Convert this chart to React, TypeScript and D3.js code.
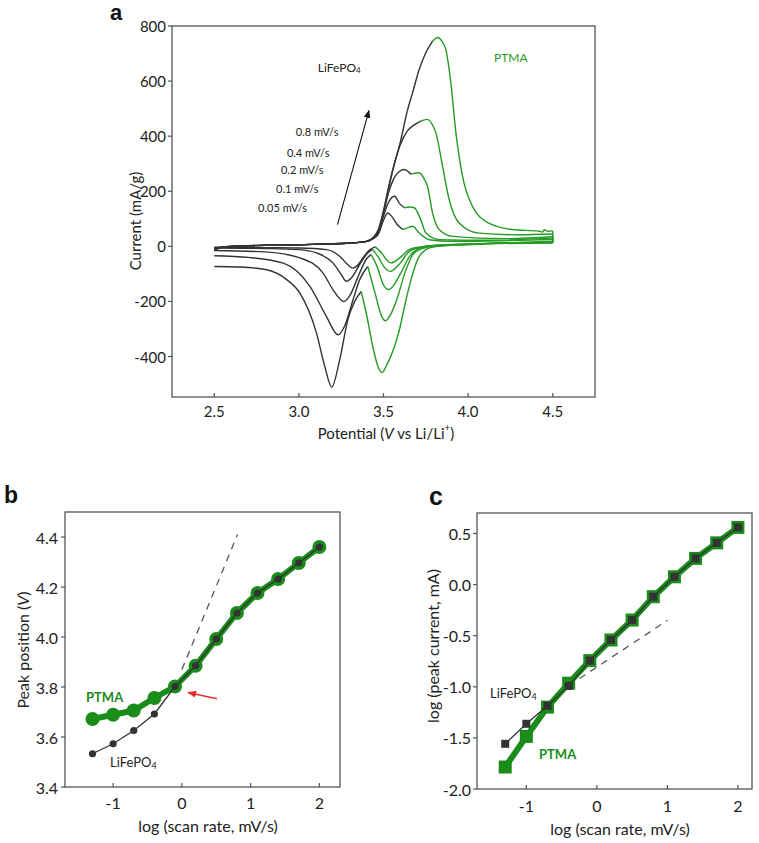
import React from "react";
import * as d3 from "d3";

// ---------- Panel a data: CV curves [potential V, current mA/g] ----------
const rateLabels = ["0.05 mV/s", "0.1 mV/s", "0.2 mV/s", "0.4 mV/s", "0.8 mV/s"];

const anodic005: [number, number][] = [[2.5,-8],[2.55,-2],[2.7,2],[3.0,6],[3.3,12],[3.4,18],[3.44,28],[3.47,45],[3.5,95],[3.525,121],[3.55,108],[3.58,80],[3.614,61],[3.645,68],[3.672,73],[3.71,49],[3.77,24],[3.9,18],[4.2,20],[4.5,25]];
const anodic01: [number, number][] = [[2.5,-8],[2.55,-2],[2.7,2],[3.0,6],[3.3,12],[3.4,18],[3.44,30],[3.47,50],[3.5,110],[3.53,160],[3.565,182],[3.595,155],[3.624,140],[3.655,143],[3.682,140],[3.72,97],[3.75,49],[3.83,24],[4.1,22],[4.5,30]];
const anodic02: [number, number][] = [[2.5,-10],[2.55,-3],[2.7,2],[3.0,6],[3.3,12],[3.4,18],[3.44,31],[3.47,55],[3.5,120],[3.53,195],[3.56,245],[3.59,270],[3.62,279],[3.663,262],[3.71,267],[3.74,245],[3.76,218],[3.79,121],[3.829,61],[3.908,36],[4.2,28],[4.5,35]];
const anodic04: [number, number][] = [[2.5,-12],[2.55,-3],[2.7,2],[3.0,6],[3.3,12],[3.4,18],[3.44,32],[3.47,58],[3.5,125],[3.53,210],[3.56,290],[3.6,370],[3.64,418],[3.68,440],[3.72,455],[3.76,461],[3.79,440],[3.81,412],[3.849,291],[3.888,170],[3.947,85],[4.065,48],[4.3,42],[4.5,45]];
const anodic08: [number, number][] = [[2.5,-15],[2.55,-3],[2.7,2],[3.0,6],[3.3,12],[3.4,18],[3.44,32],[3.47,62],[3.5,130],[3.53,215],[3.56,290],[3.6,380],[3.64,490],[3.672,558],[3.71,640],[3.75,703],[3.79,745],[3.82,758],[3.845,745],[3.868,715],[3.898,594],[3.928,412],[3.967,255],[4.026,145],[4.12,85],[4.26,61],[4.42,55],[4.44,52],[4.45,60],[4.47,55],[4.5,56]];

const cathodic005: [number, number][] = [[2.5,-3],[2.8,-5],[3.0,-6],[3.163,-12],[3.241,-36],[3.29,-67],[3.316,-79],[3.345,-70],[3.38,-40],[3.42,-12],[3.452,-2],[3.49,-25],[3.52,-50],[3.545,-60],[3.6,-40],[3.65,-12],[3.72,-2],[3.8,3],[4.0,8],[4.5,12]];
const cathodic01: [number, number][] = [[2.5,-6],[2.8,-8],[3.0,-12],[3.104,-24],[3.202,-61],[3.251,-103],[3.28,-127],[3.31,-115],[3.36,-65],[3.41,-22],[3.437,-12],[3.47,-40],[3.51,-80],[3.54,-91],[3.6,-60],[3.65,-20],[3.72,-3],[3.8,3],[4.0,8],[4.5,14]];
const cathodic02: [number, number][] = [[2.5,-15],[2.8,-20],[3.006,-42],[3.143,-97],[3.202,-158],[3.265,-200],[3.3,-180],[3.35,-110],[3.4,-45],[3.427,-30],[3.46,-70],[3.5,-140],[3.531,-157],[3.6,-100],[3.65,-40],[3.7,-10],[3.76,0],[4.0,8],[4.5,15]];
const cathodic04: [number, number][] = [[2.5,-34],[2.7,-40],[2.908,-61],[3.065,-145],[3.163,-255],[3.231,-321],[3.27,-290],[3.32,-194],[3.36,-120],[3.407,-73],[3.45,-170],[3.49,-255],[3.512,-270],[3.54,-250],[3.58,-190],[3.63,-90],[3.68,-25],[3.75,-4],[3.85,3],[4.0,8],[4.5,16]];
const cathodic08: [number, number][] = [[2.5,-73],[2.653,-75],[2.81,-85],[2.928,-121],[3.006,-170],[3.104,-315],[3.153,-436],[3.194,-511],[3.241,-412],[3.29,-265],[3.33,-200],[3.368,-164],[3.398,-242],[3.437,-364],[3.467,-436],[3.492,-458],[3.52,-430],[3.594,-303],[3.633,-194],[3.663,-121],[3.7,-50],[3.75,-12],[3.8,-2],[4.0,6],[4.5,18]];

const anodicCurves = [anodic005, anodic01, anodic02, anodic04, anodic08];
const cathodicCurves = [cathodic005, cathodic01, cathodic02, cathodic04, cathodic08];
// potential where colour changes from LiFePO4 (black) to PTMA (green)
const anodicSplit = [3.614, 3.624, 3.663, 3.72, 3.79];
const cathodicSplit = [3.452, 3.437, 3.427, 3.407, 3.368];

const aXTicks = [2.5, 3.0, 3.5, 4.0, 4.5];
const aYTicks = [-400, -200, 0, 200, 400, 600, 800];

// ---------- Panels b & c data ----------
const logRate = [-1.3, -1.0, -0.7, -0.4, -0.1, 0.2, 0.5, 0.8, 1.1, 1.4, 1.7, 2.0];
const peakPosPTMA = [3.672, 3.689, 3.706, 3.756, 3.802, 3.885, 3.992, 4.096, 4.176, 4.232, 4.296, 4.36];
const peakPosLFP = [3.533, 3.573, 3.626, 3.692, 3.802, 3.885, 3.992, 4.096, 4.176, 4.232, 4.296, 4.36];
const peakCurPTMA = [-1.785, -1.486, -1.199, -0.965, -0.744, -0.542, -0.347, -0.119, 0.076, 0.256, 0.408, 0.559];
const peakCurLFP = [-1.558, -1.362, -1.186, -0.991, -0.744, -0.542, -0.347, -0.119, 0.076, 0.256, 0.408, 0.559];

const bXTicks = [-1, 0, 1, 2];
const bYTicks = [3.4, 3.6, 3.8, 4.0, 4.2, 4.4];
const cXTicks = [-1, 0, 1, 2];
const cYTicks = [-2.0, -1.5, -1.0, -0.5, 0.0, 0.5];

const bDashed: [number, number][] = [[0.0, 3.87], [0.81, 4.41]];
const cDashed: [number, number][] = [[-0.4, -0.99], [1.0, -0.35]];
const bRedArrow: [number, number][] = [[0.51, 3.753], [0.09, 3.778]];
const aArrow: [number, number][] = [[3.228, 79], [3.414, 493]];

const FONT = "Lato, 'Open Sans', sans-serif";
const GREEN_A = "#249b24";
const GREEN = "#1a8c1a";
const DARK = "#333333";
const AXIS = "#555555";

export default function App() {
  // scales
  const xA = d3.scaleLinear().domain([2.25, 4.75]).range([172, 595]);
  const yA = d3.scaleLinear().domain([-547, 800]).range([397, 26]);
  const xB = d3.scaleLinear().domain([-1.7, 2.3]).range([65, 340]);
  const yB = d3.scaleLinear().domain([3.4, 4.5]).range([787, 512]);
  const xC = d3.scaleLinear().domain([-1.7, 2.2]).range([477, 752]);
  const yC = d3.scaleLinear().domain([-2.0, 0.7]).range([789, 513]);

  const lineA = d3
    .line<[number, number]>()
    .x((d) => xA(d[0]))
    .y((d) => yA(d[1]))
    .curve(d3.curveMonotoneX);

  const segs: { d: string; color: string }[] = [];
  anodicCurves.forEach((c, i) => {
    const s = anodicSplit[i];
    segs.push({ d: lineA(c.filter((p) => p[0] <= s))!, color: DARK });
    segs.push({ d: lineA(c.filter((p) => p[0] >= s))!, color: GREEN_A });
  });
  cathodicCurves.forEach((c, i) => {
    const s = cathodicSplit[i];
    segs.push({ d: lineA(c.filter((p) => p[0] <= s))!, color: DARK });
    segs.push({ d: lineA(c.filter((p) => p[0] >= s))!, color: GREEN_A });
    const a = anodicCurves[i];
    const aEnd = a[a.length - 1];
    const cEnd = c[c.length - 1];
    segs.push({
      d: `M${xA(aEnd[0])},${yA(aEnd[1])}L${xA(cEnd[0])},${yA(cEnd[1])}`,
      color: GREEN_A,
    });
  });

  const lineB = (ys: number[]) =>
    d3.line<number>().x((_, i) => xB(logRate[i])).y((d) => yB(d))(ys)!;
  const lineC = (ys: number[]) =>
    d3.line<number>().x((_, i) => xC(logRate[i])).y((d) => yC(d))(ys)!;

  const fmt1 = (v: number) => v.toFixed(1);

  const rateLabelPos: [number, number][] = [
    [2.759, 141],
    [2.865, 211],
    [2.894, 279],
    [2.929, 342],
    [2.982, 417],
  ];

  return (
    <svg
      width={759}
      height={843}
      style={{ position: "absolute", left: 0, top: 0, background: "#fff" }}
      fontFamily={FONT}
    >
      <defs>
        <marker id="arrBlack" viewBox="0 0 10 10" refX="9" refY="5" markerWidth="8" markerHeight="8" orient="auto" markerUnits="userSpaceOnUse">
          <path d="M0,1 L10,5 L0,9 z" fill="#111" />
        </marker>
        <marker id="arrRed" viewBox="0 0 10 10" refX="9" refY="5" markerWidth="9" markerHeight="9" orient="auto" markerUnits="userSpaceOnUse">
          <path d="M0,1 L10,5 L0,9 z" fill="#e8302a" />
        </marker>
      </defs>

      {/* ================= Panel a ================= */}
      <text x={110} y={12} fontSize={22} fontWeight="bold" dominantBaseline="central" fontFamily="Arial, 'Liberation Sans', sans-serif" fill="#111">a</text>
      <rect x={172} y={26} width={423} height={371} fill="none" stroke={AXIS} strokeWidth={1.3} />
      {aXTicks.map((t) => (
        <g key={"ax" + t}>
          <line x1={xA(t)} x2={xA(t)} y1={397} y2={393} stroke={AXIS} strokeWidth={1.2} />
          <text x={xA(t)} y={411} textAnchor="middle" dominantBaseline="central" fontSize={15} fill="#222">{fmt1(t)}</text>
        </g>
      ))}
      {aYTicks.map((t) => (
        <g key={"ay" + t}>
          <line x1={172} x2={168} y1={yA(t)} y2={yA(t)} stroke={AXIS} strokeWidth={1.2} />
          <text x={166} y={yA(t)} textAnchor="end" dominantBaseline="central" fontSize={15} fill="#222">{t}</text>
        </g>
      ))}
      <text transform={`translate(135,221) rotate(-90)`} textAnchor="middle" dominantBaseline="central" fontSize={15} fill="#222">Current (mA/g)</text>
      <text x={386} y={433} textAnchor="middle" dominantBaseline="central" fontSize={15} fill="#222">
        Potential (<tspan fontStyle="italic">V</tspan> vs Li/Li<tspan baselineShift="super" fontSize={10}>+</tspan>)
      </text>

      {segs.map((s, i) => (
        <path key={"seg" + i} d={s.d} fill="none" stroke={s.color} strokeWidth={1.4} strokeLinejoin="round" />
      ))}

      <line
        x1={xA(aArrow[0][0])}
        y1={yA(aArrow[0][1])}
        x2={xA(aArrow[1][0])}
        y2={yA(aArrow[1][1])}
        stroke="#111"
        strokeWidth={1.1}
        markerEnd="url(#arrBlack)"
      />
      {rateLabels.map((l, i) => (
        <text key={l} x={xA(rateLabelPos[i][0])} y={yA(rateLabelPos[i][1])} dominantBaseline="central" fontSize={11} fill="#222">{l}</text>
      ))}
      <text x={xA(3.112)} y={yA(650)} dominantBaseline="central" fontSize={12} fill="#222">
        LiFePO<tspan fontSize={8} dy={3}>4</tspan>
      </text>
      <text x={xA(4.153)} y={yA(687)} dominantBaseline="central" fontSize={12} fill={GREEN_A}>PTMA</text>

      {/* ================= Panel b ================= */}
      <text x={4} y={503} fontSize={23} fontWeight="bold" fontFamily="Arial, 'Liberation Sans', sans-serif" fill="#111">b</text>
      <rect x={65} y={512} width={275} height={275} fill="none" stroke={AXIS} strokeWidth={1.3} />
      {bXTicks.map((t) => (
        <g key={"bx" + t}>
          <line x1={xB(t)} x2={xB(t)} y1={787} y2={783} stroke={AXIS} strokeWidth={1.2} />
          <text x={xB(t)} y={802} textAnchor="middle" dominantBaseline="central" fontSize={16} fill="#222">{t}</text>
        </g>
      ))}
      {bYTicks.map((t) => (
        <g key={"by" + t}>
          <line x1={65} x2={61} y1={yB(t)} y2={yB(t)} stroke={AXIS} strokeWidth={1.2} />
          <text x={58} y={yB(t)} textAnchor="end" dominantBaseline="central" fontSize={16} fill="#222">{fmt1(t)}</text>
        </g>
      ))}
      <text transform={`translate(22,650) rotate(-90)`} textAnchor="middle" dominantBaseline="central" fontSize={16} fill="#222">
        Peak position (<tspan fontStyle="italic">V</tspan>)
      </text>
      <text x={208} y={825} textAnchor="middle" dominantBaseline="central" fontSize={16} fill="#222">log (scan rate, mV/s)</text>

      <line x1={xB(bDashed[0][0])} y1={yB(bDashed[0][1])} x2={xB(bDashed[1][0])} y2={yB(bDashed[1][1])} stroke="#555" strokeWidth={1.3} strokeDasharray="7,6" />
      <path d={lineB(peakPosPTMA)} fill="none" stroke={GREEN} strokeWidth={6} strokeLinejoin="round" />
      {peakPosPTMA.map((v, i) => (
        <circle key={"bp" + i} cx={xB(logRate[i])} cy={yB(v)} r={7} fill={GREEN} />
      ))}
      <path d={lineB(peakPosLFP)} fill="none" stroke={DARK} strokeWidth={1.3} />
      {peakPosLFP.map((v, i) => (
        <circle key={"bl" + i} cx={xB(logRate[i])} cy={yB(v)} r={3.6} fill={DARK} />
      ))}
      <line x1={xB(bRedArrow[0][0])} y1={yB(bRedArrow[0][1])} x2={xB(bRedArrow[1][0])} y2={yB(bRedArrow[1][1])} stroke="#e8302a" strokeWidth={1.3} markerEnd="url(#arrRed)" />
      <text x={86} y={697} dominantBaseline="central" fontSize={13} fontWeight="bold" fill={GREEN}>PTMA</text>
      <text x={110} y={762} dominantBaseline="central" fontSize={13} fill="#222">
        LiFePO<tspan fontSize={9} dy={3}>4</tspan>
      </text>

      {/* ================= Panel c ================= */}
      <text x={429} y={505} fontSize={25} fontWeight="bold" fontFamily="Arial, 'Liberation Sans', sans-serif" fill="#111">c</text>
      <rect x={477} y={513} width={275} height={276} fill="none" stroke={AXIS} strokeWidth={1.3} />
      {cXTicks.map((t) => (
        <g key={"cx" + t}>
          <line x1={xC(t)} x2={xC(t)} y1={789} y2={785} stroke={AXIS} strokeWidth={1.2} />
          <text x={xC(t)} y={805} textAnchor="middle" dominantBaseline="central" fontSize={16} fill="#222">{t}</text>
        </g>
      ))}
      {cYTicks.map((t) => (
        <g key={"cy" + t}>
          <line x1={477} x2={473} y1={yC(t)} y2={yC(t)} stroke={AXIS} strokeWidth={1.2} />
          <text x={471} y={yC(t)} textAnchor="end" dominantBaseline="central" fontSize={16} fill="#222">{fmt1(t)}</text>
        </g>
      ))}
      <text transform={`translate(432,646) rotate(-90)`} textAnchor="middle" dominantBaseline="central" fontSize={16} fill="#222">log (peak current, mA)</text>
      <text x={620} y={828} textAnchor="middle" dominantBaseline="central" fontSize={16} fill="#222">log (scan rate, mV/s)</text>

      <line x1={xC(cDashed[0][0])} y1={yC(cDashed[0][1])} x2={xC(cDashed[1][0])} y2={yC(cDashed[1][1])} stroke="#555" strokeWidth={1.3} strokeDasharray="7,6" />
      <path d={lineC(peakCurPTMA)} fill="none" stroke={GREEN} strokeWidth={6} strokeLinejoin="round" />
      {peakCurPTMA.map((v, i) => (
        <rect key={"cp" + i} x={xC(logRate[i]) - 6.5} y={yC(v) - 6.5} width={13} height={13} fill={GREEN} />
      ))}
      <path d={lineC(peakCurLFP)} fill="none" stroke={DARK} strokeWidth={1.3} />
      {peakCurLFP.map((v, i) => (
        <rect key={"cl" + i} x={xC(logRate[i]) - 4} y={yC(v) - 4} width={8} height={8} fill={DARK} />
      ))}
      <text x={490} y={693} dominantBaseline="central" fontSize={13} fill="#222">
        LiFePO<tspan fontSize={9} dy={3}>4</tspan>
      </text>
      <text x={539} y={754} dominantBaseline="central" fontSize={13} fontWeight="bold" fill={GREEN}>PTMA</text>
    </svg>
  );
}
